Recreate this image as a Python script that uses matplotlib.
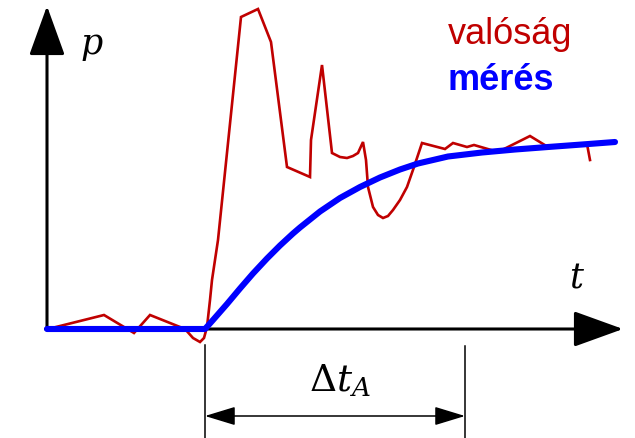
import matplotlib.pyplot as plt
from matplotlib.patches import ArrowStyle

# ======= Dane (t, p w jednostkach rysunku) =======
real_t = [1, 57, 87, 103, 138, 146, 153, 157, 160, 163, 165, 171, 194, 211, 224, 240,
          263, 264, 275, 285, 293, 300, 306, 311, 316, 319, 321, 326, 331, 336, 341,
          346, 353, 360, 367, 375, 398, 406, 420, 427, 451, 483, 501, 540, 543]
real_p = [0, 14, -4, 14, 0, -9, -13, -9, 2, 29, 49, 89, 312, 320, 287, 162,
          152, 189, 264, 176, 172, 171, 173, 176, 187, 169, 142, 122, 114, 111, 113,
          119, 129, 142, 162, 186, 180, 186, 182, 184, 177, 193, 182, 185, 169]

meas_t = [0, 158, 166, 180, 193, 206, 220, 233, 246, 253, 273, 293, 313, 333, 353,
          371, 401, 435, 468, 501, 535, 568]
meas_p = [0, 0, 9, 25, 40.5, 55.5, 70.5, 83.5, 95.5, 101.5, 117.5, 131, 142, 151.5,
          159.5, 165.5, 172.5, 176.5, 179.5, 182, 184.5, 187]

dt_start = 158   # początek Δt_A
dt_end = 418     # koniec Δt_A

RED = "#C00000"
BLUE = "#0000FF"

plt.rcParams["mathtext.fontset"] = "dejavuserif"

fig = plt.figure(figsize=(6.35, 4.38), dpi=100)
ax = fig.add_axes([0, 0, 1, 1])
ax.set_xlim(-47, 588)
ax.set_ylim(-109, 329)
ax.axis("off")

# ======= Osie ze strzałkami =======
big = ArrowStyle("-|>", head_length=1.55, head_width=0.56)
ax.annotate("", xy=(0, 323), xytext=(0, -1),
            arrowprops=dict(arrowstyle=big, mutation_scale=20, lw=2.2,
                            color="black", shrinkA=0, shrinkB=0), zorder=1)
ax.annotate("", xy=(576, 0), xytext=(-1.5, 0),
            arrowprops=dict(arrowstyle=big, mutation_scale=20, lw=2.2,
                            color="black", shrinkA=0, shrinkB=0), zorder=1)

# ======= Krzywe =======
ax.plot(real_t, real_p, color=RED, lw=1.9, zorder=2, solid_joinstyle="miter")
ax.plot(meas_t, meas_p, color=BLUE, lw=4.4, zorder=3,
        solid_capstyle="round", solid_joinstyle="round")

# ======= Wymiar Δt_A =======
ax.plot([dt_start, dt_start], [-16, -109], color="black", lw=1.1)
ax.plot([dt_end, dt_end], [-17, -109], color="black", lw=1.1)
small = ArrowStyle("<|-|>", head_length=0.95, head_width=0.29)
ax.annotate("", xy=(dt_end, -87), xytext=(dt_start, -87),
            arrowprops=dict(arrowstyle=small, mutation_scale=20, lw=1.1,
                            color="black", shrinkA=0, shrinkB=0))

ax.text(293, -52, r"$\Delta t_A$", fontsize=27, ha="center", va="center")
ax.text(45, 283, r"$p$", fontsize=25, ha="center", va="center")
ax.text(530, 51, r"$t$", fontsize=25, ha="center", va="center")

# ======= Legenda =======
ax.text(401, 294, "valóság", color=RED, fontsize=26, family="Liberation Sans",
        ha="left", va="center")
ax.text(401, 249, "mérés", color=BLUE, fontsize=26, family="Liberation Sans",
        fontweight="bold", ha="left", va="center")

fig.savefig("out.png", dpi=100)
